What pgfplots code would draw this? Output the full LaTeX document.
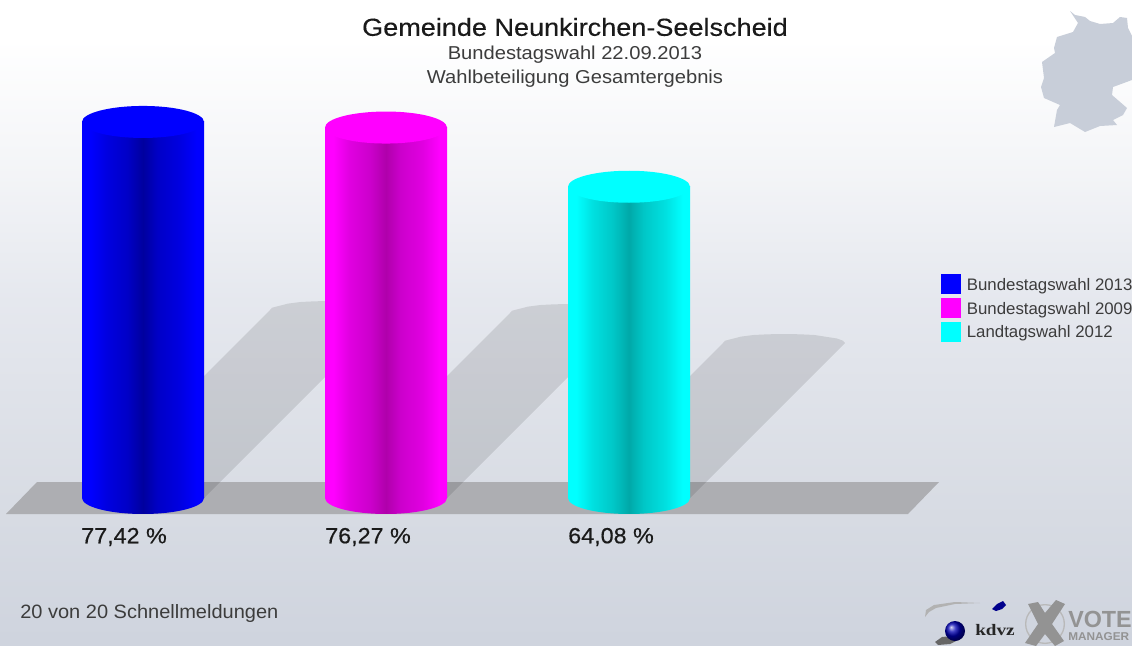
\documentclass[border=0pt]{standalone}
\usepackage{fontspec}
\setmainfont{Liberation Sans}
\newfontfamily\titlef[FakeBold=0.25,FakeStretch=1.097]{Liberation Sans}
\newfontfamily\subf[FakeStretch=1.08]{Liberation Sans}
\newfontfamily\footf[FakeStretch=1.035]{Liberation Sans}
\newfontfamily\pctf[FakeBold=0.45,FakeStretch=1.06]{Liberation Sans}
\newfontfamily\legf[FakeStretch=1.01]{Liberation Sans}
\newfontfamily\logof[FakeStretch=1.2]{Liberation Serif}
\newfontfamily\mgrf[FakeStretch=1.04]{Liberation Sans}
\usepackage{pgfplots}
\pgfplotsset{compat=1.18}
\definecolor{floorgray}{HTML}{ADAEB2}
\definecolor{mapgray}{HTML}{C8CED9}
\definecolor{txt}{HTML}{1A1A1A}
\definecolor{pureblue}{rgb}{0,0,1}
\definecolor{puremag}{rgb}{1,0,1}
\definecolor{purecyan}{rgb}{0,1,1}
\pgfdeclareverticalshading{bgshade}{100bp}{rgb(0bp)=(.81,.83,.87);rgb(25bp)=(.81,.83,.87);rgb(37bp)=(.85,.865,.895);rgb(52bp)=(.90,.91,.935);rgb(62bp)=(.955,.96,.97);rgb(72bp)=(1,1,1);rgb(75bp)=(1,1,1);rgb(100bp)=(1,1,1)}
\pgfdeclarehorizontalshading{cylblue}{100bp}{rgb(0bp)=(0,0,1);rgb(28.5bp)=(0,0,1);rgb(35bp)=(0,0,.88);rgb(43.5bp)=(0,0,.78);rgb(50bp)=(0,0,.62);rgb(56bp)=(0,0,.78);rgb(65bp)=(0,0,.88);rgb(72bp)=(0,0,1);rgb(100bp)=(0,0,1)}
\pgfdeclarehorizontalshading{cylmag}{100bp}{rgb(0bp)=(1,0,1);rgb(28.5bp)=(1,0,1);rgb(35bp)=(.88,0,.88);rgb(43.5bp)=(.8,0,.8);rgb(50bp)=(.69,0,.67);rgb(56bp)=(.8,0,.8);rgb(65bp)=(.88,0,.88);rgb(72bp)=(1,0,1);rgb(100bp)=(1,0,1)}
\pgfdeclarehorizontalshading{cylcyan}{100bp}{rgb(0bp)=(0,1,1);rgb(28.5bp)=(0,1,1);rgb(35bp)=(0,.88,.88);rgb(43.5bp)=(0,.78,.78);rgb(50bp)=(0,.66,.66);rgb(56bp)=(0,.78,.78);rgb(65bp)=(0,.88,.88);rgb(72bp)=(0,1,1);rgb(100bp)=(0,1,1)}
\pgfdeclareplotmark{baseblue}{\path[draw=none,shade,shading=cylblue] (-45.75pt,0.5pt) -- (-45.75pt,0pt) arc[start angle=180,end angle=360,x radius=45.75pt,y radius=12pt] -- (45.75pt,0.5pt) -- cycle;}
\pgfdeclareplotmark{basemag}{\path[draw=none,shade,shading=cylmag] (-45.75pt,0.5pt) -- (-45.75pt,0pt) arc[start angle=180,end angle=360,x radius=45.75pt,y radius=12pt] -- (45.75pt,0.5pt) -- cycle;}
\pgfdeclareplotmark{basecyan}{\path[draw=none,shade,shading=cylcyan] (-45.75pt,0.5pt) -- (-45.75pt,0pt) arc[start angle=180,end angle=360,x radius=45.75pt,y radius=12pt] -- (45.75pt,0.5pt) -- cycle;}
\pgfdeclareplotmark{topcap}{\pgfpathellipse{\pgfpointorigin}{\pgfqpoint{45.75pt}{0pt}}{\pgfqpoint{0pt}{12pt}}\pgfusepathqfill}
\begin{document}
\begin{tikzpicture}
\path[use as bounding box,clip] (0,0) rectangle (849pt,484.5pt);
% decoration layer, pixel coordinates of the picture
\begin{axis}[at={(0,0)},anchor=south west,scale only axis,width=849pt,height=484.5pt,
  xmin=0,xmax=1132,ymin=0,ymax=646,y dir=reverse,hide axis,clip=true]
\addplot[draw=none,shade,shading=bgshade] coordinates {(0,0)(1132,0)(1132,646)(0,646)} -- cycle;
\addplot[draw=none,fill=mapgray] coordinates {(1070,11)(1075,15)(1085,17)(1090,21)(1100,24)(1113,23)(1120,17)(1127,18)(1128,28)(1132,36)(1132,80)(1113,87)(1112,95)(1127,108)(1123,115)(1113,120)(1117,125)(1100,126)(1085,132)(1070,123)(1054,127)(1057,110)(1060,105)(1044,98)(1041,87)(1044,78)(1042,62)(1055,53)(1054,48)(1057,37)(1073,32)(1078,23)} -- cycle;
\addplot[draw=none,fill=floorgray] coordinates {(6,514)(37,482)(939,482)(908,514)} -- cycle;
\addplot[draw=none,fill=black,fill opacity=.105] coordinates {(82,498)(270,310)(272,307.7)(288,303.6)(300.5,302)(315,301.3)(331,301)(347,301.3)(361.5,302)(384,305.5)(390,307.7)(392,310)(204,498)} -- cycle;
\addplot[draw=none,fill=black,fill opacity=.105] coordinates {(325,498)(510,313)(512,310.7)(528,306.6)(540.5,305)(555,304.3)(571,304)(587,304.3)(601.5,305)(624,308.5)(630,310.7)(632,313)(447,498)} -- cycle;
\addplot[draw=none,fill=black,fill opacity=.105] coordinates {(568,498)(723,343)(725,340.7)(741,336.6)(753.5,335)(768,334.3)(784,334)(800,334.3)(814.5,335)(837,338.5)(843,340.7)(845,343)(690,498)} -- cycle;
% logo swoosh, ball, cross
\addplot[draw=none,fill=gray!60] coordinates {(925,617)(926,610)(934,605)(955,602)(980,603)(955,604)(936,608)(929,612)} -- cycle;
\addplot[draw=none,fill=blue!55!black] coordinates {(992,609)(997,604)(1003,601)(1006,605)(1002,609)(996,611)} -- cycle;
\addplot[draw=none,fill=black!60] coordinates {(935,642)(942,637)(952,636)(960,639)(950,644)(938,645)} -- cycle;
\shade[ball color=blue!70!black] (axis cs:955,631) circle [radius=7.5pt];
\draw[gray!55,line width=1pt] (axis cs:1045,624) circle [radius=14.5pt];
\addplot[draw=none,fill=gray!85] coordinates {(1028,604)(1038,602)(1045,613)(1056,600)(1065,604)(1052,624)(1064,641)(1055,646)(1045,634)(1036,646)(1025,643)(1038,624)} -- cycle;
\node[anchor=west,inner sep=0pt,font=\logof\bfseries\fontsize{12}{12}\selectfont,text=black!85] at (axis cs:975,630) {kdvz};
\node[anchor=base west,inner sep=0pt,text depth=0pt,font=\bfseries\fontsize{17.5}{17.5}\selectfont,text=gray!85] at (axis cs:1068,627) {VOTE};
\node[anchor=base west,inner sep=0pt,text depth=0pt,text height=6pt,font=\mgrf\bfseries\fontsize{8.5}{8.5}\selectfont,text=gray!85] at (axis cs:1068,640) {MANAGER};
% texts
\node[font=\titlef\fontsize{18.5}{18.5}\selectfont,text=txt] at (axis cs:575,27) {Gemeinde Neunkirchen-Seelscheid};
\node[font=\subf\fontsize{14}{14}\selectfont,text=txt!85] at (axis cs:575,54.5) {Bundestagswahl 22.09.2013};
\node[font=\subf\fontsize{14}{14}\selectfont,text=txt!85] at (axis cs:575,78.5) {Wahlbeteiligung Gesamtergebnis};
\node[anchor=west,inner sep=0pt,font=\footf\fontsize{14.5}{14.5}\selectfont,text=txt!85] at (axis cs:20,613) {20 von 20 Schnellmeldungen};
\node[anchor=west,inner sep=0pt,font=\pctf\fontsize{16.5}{16.5}\selectfont,text=txt] at (axis cs:81,537) {77,42 \%};
\node[anchor=west,inner sep=0pt,font=\pctf\fontsize{16.5}{16.5}\selectfont,text=txt] at (axis cs:325,537) {76,27 \%};
\node[anchor=west,inner sep=0pt,font=\pctf\fontsize{16.5}{16.5}\selectfont,text=txt] at (axis cs:568,537) {64,08 \%};
\end{axis}
% data layer: the values, 4.857 px per percentage point
\begin{axis}[at={(0,0)},anchor=south west,scale only axis,width=849pt,height=484.5pt,
  xmin=-0.5885,xmax=4.0700,ymin=-30.47,ymax=102.53,hide axis,clip=false,
  legend cell align=left,
  legend style={at={(0.8313,0.5759)},anchor=north west,draw=none,fill=none,inner sep=0pt,outer sep=0pt,
    row sep=2.75pt,column sep=4.7pt,font=\legf\fontsize{12.5}{12.5}\selectfont,text=txt!85,
    nodes={inner sep=0pt,text height=9.5pt,text depth=3pt}}]
\addlegendimage{legend image code/.code={\fill[pureblue] (0pt,-5.5pt) rectangle (14.25pt,8.7pt);}}
\addlegendentry{Bundestagswahl 2013}
\addlegendimage{legend image code/.code={\fill[puremag] (0pt,-5.5pt) rectangle (14.25pt,8.7pt);}}
\addlegendentry{Bundestagswahl 2009}
\addlegendimage{legend image code/.code={\fill[purecyan] (0pt,-5.5pt) rectangle (14.25pt,8.7pt);}}
\addlegendentry{Landtagswahl 2012}
\addplot[forget plot,ybar,bar width=91.5pt,bar shift=0pt,draw=none,shade,shading=cylblue] coordinates {(0,77.42)};
\addplot[forget plot,ybar,bar width=91.5pt,bar shift=0pt,draw=none,shade,shading=cylmag] coordinates {(1,76.27)};
\addplot[forget plot,ybar,bar width=91.5pt,bar shift=0pt,draw=none,shade,shading=cylcyan] coordinates {(2,64.08)};
\addplot[only marks,forget plot,mark=baseblue,mark options={draw=none}] coordinates {(0,0)};
\addplot[only marks,forget plot,mark=basemag,mark options={draw=none}] coordinates {(1,0)};
\addplot[only marks,forget plot,mark=basecyan,mark options={draw=none}] coordinates {(2,0)};
\addplot[only marks,forget plot,mark=topcap,mark options={fill=pureblue,draw=none}] coordinates {(0,77.42)};
\addplot[only marks,forget plot,mark=topcap,mark options={fill=puremag,draw=none}] coordinates {(1,76.27)};
\addplot[only marks,forget plot,mark=topcap,mark options={fill=purecyan,draw=none}] coordinates {(2,64.08)};
\end{axis}
\end{tikzpicture}
\end{document}
